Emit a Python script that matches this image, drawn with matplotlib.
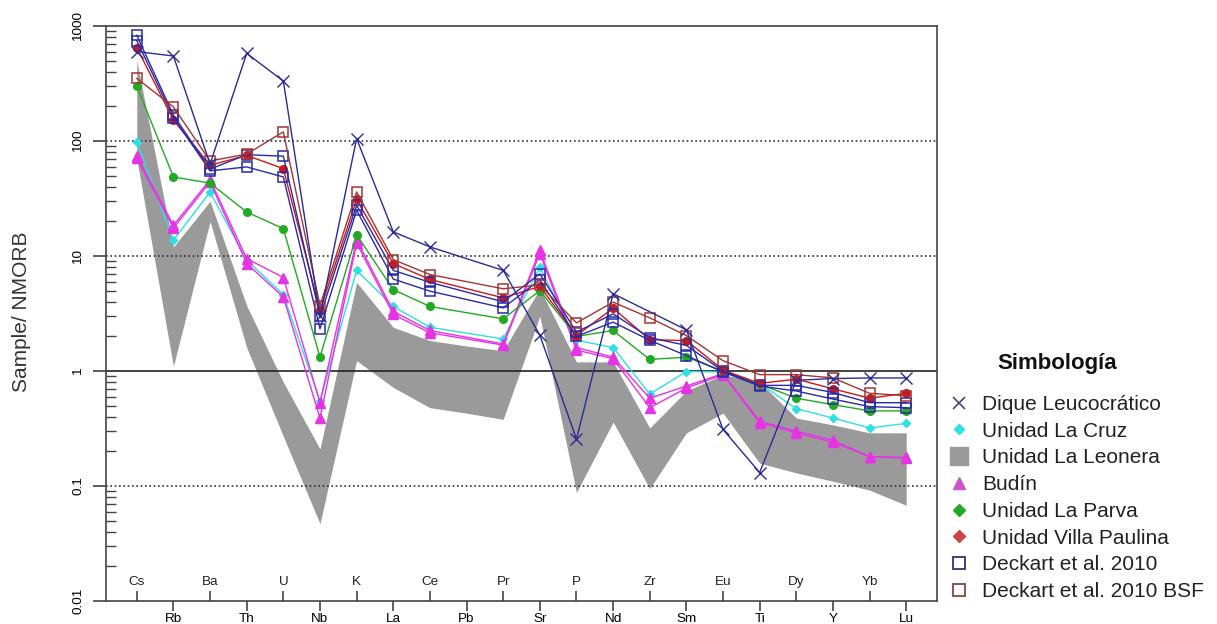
import numpy as np
import matplotlib.pyplot as plt
from matplotlib.lines import Line2D

plt.rcParams['font.family'] = ['Liberation Sans', 'DejaVu Sans']

# --- Data (normalised to NMORB) ---

elements = ['Cs', 'Rb', 'Ba', 'Th', 'U', 'Nb', 'K', 'La', 'Ce', 'Pb', 'Pr',
            'Sr', 'P', 'Nd', 'Zr', 'Sm', 'Eu', 'Ti', 'Dy', 'Y', 'Yb', 'Lu']
nan = np.nan

dique = [600, 548, 63, 578, 332, 3.0, 105, 16.2, 12, nan, 7.5,
         2.05, 0.256, 4.7, nan, 2.28, 0.31, 0.131, 0.83, 0.86, 0.87, 0.87]
la_cruz = [98, 13.7, 36, 9.2, 4.6, 0.55, 7.5, 3.64, 2.4, nan, 1.9,
           8.0, 1.85, 1.6, 0.63, 0.99, 0.98, 0.78, 0.47, 0.39, 0.32, 0.35]
budin_1 = [74, 18.5, 46, 9.5, 6.5, 0.53, 13.8, 3.3, 2.25, nan, 1.72,
           11.2, 1.6, 1.32, 0.58, 0.74, 0.95, 0.365, 0.30, 0.25, 0.18, 0.177]
budin_2 = [71, 17.5, 44, 8.6, 4.4, 0.39, 13.0, 3.1, 2.15, nan, 1.68,
           10.5, 1.52, 1.28, 0.48, 0.71, 0.93, 0.355, 0.29, 0.24, 0.18, 0.175]
la_parva = [300, 48.7, 43, 24.1, 17.3, 1.32, 15.3, 5.1, 3.64, nan, 2.84,
            5.0, 2.0, 2.25, 1.26, 1.32, 1.0, 0.77, 0.58, 0.51, 0.45, 0.45]
villa_paulina = [650, 152, 61.5, 75, 57.5, 3.36, 31, 8.6, 6.25, nan, 4.33,
                 5.44, 2.03, 3.52, 1.87, 1.84, 1.02, 0.78, 0.85, 0.70, 0.58, 0.64]
deckart_1 = [830, 168, 57, 76, 73.8, 3.0, 27.6, 7.5, 5.9, nan, 4.0,
             7.0, 2.18, 3.14, 1.95, 1.67, 1.0, 0.75, 0.75, 0.65, 0.53, 0.53]
deckart_2 = [745, 160, 55, 59.5, 48.7, 2.33, 25, 6.3, 4.95, nan, 3.54,
             6.2, 2.0, 2.66, 1.85, 1.36, 0.98, 0.74, 0.67, 0.57, 0.49, 0.48]
deckart_bsf = [350, 198, 67, 77, 120, 3.7, 36, 9.3, 6.9, nan, 5.19,
               5.6, 2.62, 3.97, 2.9, 2.03, 1.23, 0.93, 0.93, 0.87, 0.64, 0.61]

# Unidad La Leonera drawn as a field (upper / lower envelope)
leonera_max = [500, 12, 30, 3.7, 0.8, 0.21, 5.9, 2.4, 1.84, 1.65, 1.5,
               5.2, 1.2, 1.2, 0.32, 0.67, 0.93, 0.8, 0.39, 0.34, 0.29, 0.29]
leonera_min = [70, 1.1, 20, 1.6, 0.27, 0.047, 1.23, 0.72, 0.48, 0.43, 0.38,
               3.0, 0.088, 0.36, 0.095, 0.29, 0.43, 0.158, 0.13, 0.11, 0.092, 0.068]

# --- Styles ---

C_DIQUE = '#2b2b95'
C_CRUZ = '#2ee0e0'
C_LEONERA = '#9a9a9a'
C_BUDIN = '#e633e6'
C_PARVA = '#22aa22'
C_VILLA = '#d41515'
C_DECKART = '#2a2aa8'
C_BSF = '#a33535'

series = [
    (la_cruz, dict(color=C_CRUZ, marker='D', ms=4.5)),
    (budin_1, dict(color=C_BUDIN, marker='^', ms=6.5)),
    (budin_2, dict(color=C_BUDIN, marker='^', ms=6.5)),
    (la_parva, dict(color=C_PARVA, marker='o', ms=5.5)),
    (villa_paulina, dict(color=C_VILLA, marker='o', ms=5.5)),
    (deckart_1, dict(color=C_DECKART, marker='s', ms=7, mfc='none', mew=1.1)),
    (deckart_2, dict(color=C_DECKART, marker='s', ms=7, mfc='none', mew=1.1)),
    (deckart_bsf, dict(color=C_BSF, marker='s', ms=7, mfc='none', mew=1.1)),
    (dique, dict(color=C_DIQUE, marker='x', ms=8, mew=1.0)),
]

# --- Plot ---

x = np.arange(1, len(elements) + 1)

fig = plt.figure(figsize=(12.17, 6.24), dpi=100)
ax = fig.add_axes([106 / 1217, 1 - 601 / 624, 831 / 1217, 575 / 624])

ax.fill_between(x, leonera_min, leonera_max, color=C_LEONERA, lw=0, zorder=1)

for values, style in series:
    v = np.array(values, dtype=float)
    ok = ~np.isnan(v)
    ax.plot(x[ok], v[ok], lw=1.0, zorder=3, **style)

ax.set_yscale('log')
ax.set_ylim(0.01, 1000)
ax.set_xlim(1 - 0.84, len(elements) + 0.84)

ax.axhline(1, color='#222222', lw=1.2, zorder=2)
for level in (0.1, 10, 100):
    ax.axhline(level, color='#333333', lw=1.2, ls=(0, (1, 1.6)), zorder=2)

for side in ax.spines.values():
    side.set_color('#444444')
    side.set_linewidth(1.2)

# y axis: outward decade ticks, inward minor ticks, rotated labels
ax.set_yticks([0.01, 0.1, 1, 10, 100, 1000])
ax.set_yticklabels(['0.01', '0.1', '1', '10', '100', '1000'])
ax.tick_params(axis='y', which='major', direction='out', length=9.5, width=1.2,
               color='#444444', labelsize=9.7, pad=6, labelrotation=90)
ax.tick_params(axis='y', which='minor', direction='in', length=7, width=1.0,
               color='#444444')
for lab in ax.get_yticklabels():
    lab.set_verticalalignment('center')

# x axis: alternate element names above and below the axis
bottom_idx = x[1::2]
top_idx = x[0::2]
ax.set_xticks(bottom_idx)
ax.set_xticklabels(elements[1::2])
ax.set_xticks(top_idx, minor=True)
ax.tick_params(axis='x', which='major', direction='out', length=7.5, width=1.2,
               color='#444444', labelsize=9.7, pad=1)
ax.tick_params(axis='x', which='minor', direction='in', length=7, width=1.2,
               color='#444444')
for xi, name in zip(top_idx, elements[0::2]):
    ax.annotate(name, xy=(xi, 0), xycoords=('data', 'axes fraction'),
                xytext=(0, 11.5), textcoords='offset points',
                ha='center', va='baseline', fontsize=9.7, color='#222222')

fig.text(22 / 1217, 1 - 312 / 624, 'Sample/ NMORB', rotation=90,
         ha='center', va='center', fontsize=15, color='#333333')

# --- Legend ---

handles = [
    Line2D([], [], ls='none', marker='x', color='#45458a', ms=9, mew=1.2),
    Line2D([], [], ls='none', marker='D', color=C_CRUZ, ms=5.5),
    Line2D([], [], ls='none', marker='s', color=C_LEONERA, ms=13),
    Line2D([], [], ls='none', marker='^', color='#cc55cc', ms=8),
    Line2D([], [], ls='none', marker='D', color=C_PARVA, ms=6),
    Line2D([], [], ls='none', marker='D', color='#cc4444', ms=6),
    Line2D([], [], ls='none', marker='s', color='#333377', ms=8.5, mfc='none', mew=1.3),
    Line2D([], [], ls='none', marker='s', color='#884444', ms=8.5, mfc='none', mew=1.3),
]
labels = ['Dique Leucocrático', 'Unidad La Cruz', 'Unidad La Leonera', 'Budín',
          'Unidad La Parva', 'Unidad Villa Paulina', 'Deckart et al. 2010',
          'Deckart et al. 2010 BSF']
leg = fig.legend(handles, labels, loc='upper left',
                 bbox_to_anchor=(949 / 1217, 1 - 395 / 624),
                 frameon=False, fontsize=15,
                 handlelength=1.0, handletextpad=0.6, labelspacing=0.37,
                 borderpad=0, borderaxespad=0)
for t in leg.get_texts():
    t.set_color('#222222')
fig.text(1057 / 1217, 1 - 363 / 624, 'Simbología', ha='center', va='center',
         fontsize=16, fontweight='bold', color='#111111')

fig.savefig('out.png', dpi=100)
